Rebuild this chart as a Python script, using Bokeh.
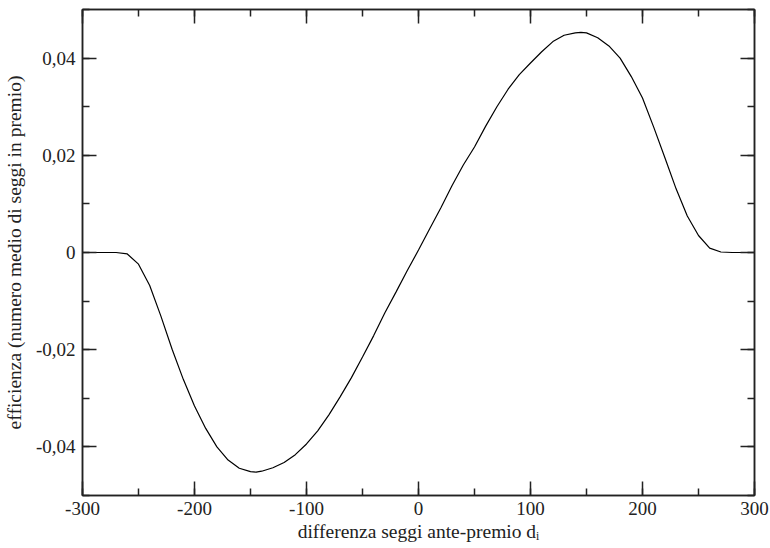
from bokeh.plotting import figure
from bokeh.models import (LinearAxis, FixedTicker, CustomJSTickFormatter, Range1d)
from bokeh.embed import file_html
from bokeh.resources import INLINE

# data
d_values = [-300, -280, -270, -260, -250, -240, -230, -220, -210, -200, -190, -180,
            -170, -160, -150, -145, -140, -130, -120, -110, -100, -90, -80, -70,
            -60, -50, -40, -30, -20, -10, 0, 10, 20, 30, 40, 50, 60, 70, 80, 90,
            100, 110, 120, 130, 140, 145, 150, 160, 170, 180, 190, 200, 210, 220,
            230, 240, 250, 260, 270, 280, 300]
efficienza = [0.0, 0.0, 0.0, -0.0003, -0.0024, -0.0068, -0.0131, -0.0199, -0.0261,
              -0.0316, -0.0362, -0.0400, -0.0427, -0.0444, -0.0451, -0.0452, -0.0450,
              -0.0443, -0.0432, -0.0416, -0.0394, -0.0367, -0.0334, -0.0297, -0.0258,
              -0.0215, -0.0171, -0.0124, -0.0081, -0.0037, 0.0005, 0.0049, 0.0092,
              0.0138, 0.0180, 0.0217, 0.0260, 0.0300, 0.0336, 0.0366, 0.0390, 0.0413,
              0.0434, 0.0447, 0.0452, 0.0453, 0.0452, 0.0442, 0.0425, 0.0400, 0.0362,
              0.0318, 0.0258, 0.0195, 0.0131, 0.0075, 0.0035, 0.0009, 0.0001, 0.0, 0.0]

x_major = [-300, -200, -100, 0, 100, 200, 300]
x_minor = [-300, -250, -200, -150, -100, -50, 0, 50, 100, 150, 200, 250, 300]
y_major = [-0.04, -0.02, 0.0, 0.02, 0.04]
y_minor = [-0.05, -0.04, -0.03, -0.02, -0.01, 0.0, 0.01, 0.02, 0.03, 0.04, 0.05]

FONT = "'Liberation Serif', 'Times New Roman', serif"

p = figure(width=770, height=545, output_backend="svg", toolbar_location=None,
           x_range=Range1d(-300, 300), y_range=Range1d(-0.05, 0.05),
           x_axis_location=None, y_axis_location=None,
           min_border_left=81, min_border_right=16, min_border_top=9,
           min_border_bottom=50)
p.grid.visible = False
p.outline_line_color = "#222222"
p.outline_line_width = 1.5

fmt = CustomJSTickFormatter(code="""
if (Math.abs(tick) < 1e-9) { return "0"; }
var a = Math.abs(tick);
var s = (a >= 1) ? a.toFixed(0) : a.toFixed(2).replace(".", ",");
return (tick < 0 ? "-" : "") + s;
""")

def style(ax, labels=True):
    ax.major_tick_in = 14
    ax.major_tick_out = 0
    ax.minor_tick_in = 7
    ax.minor_tick_out = 0
    ax.axis_line_color = "#222222"
    ax.axis_line_width = 1.5
    ax.major_tick_line_color = "#222222"
    ax.minor_tick_line_color = "#222222"
    ax.major_tick_line_width = 1.5
    ax.minor_tick_line_width = 1.5
    ax.formatter = fmt
    if labels:
        ax.major_label_text_font = FONT
        ax.major_label_text_font_size = "19px"
        ax.major_label_text_color = "#222222"
        ax.axis_label_text_font = FONT
        ax.axis_label_text_font_size = "19.5px"
        ax.axis_label_text_font_style = "normal"
        ax.axis_label_text_color = "#222222"
    else:
        ax.major_label_text_font_size = "1px"
        ax.major_label_text_color = None
        ax.major_label_standoff = 0

xb = LinearAxis(ticker=FixedTicker(ticks=x_major, minor_ticks=x_minor),
                axis_label="differenza seggi ante-premio d\u1d62")
style(xb)
xb.major_label_standoff = 6
xb.axis_label_standoff = 3
p.add_layout(xb, "below")

yl = LinearAxis(ticker=FixedTicker(ticks=y_major, minor_ticks=y_minor),
                axis_label="efficienza (numero medio di seggi in premio)")
style(yl)
yl.major_label_standoff = 7
yl.axis_label_standoff = 8
p.add_layout(yl, "left")

xt = LinearAxis(ticker=FixedTicker(ticks=x_major, minor_ticks=x_minor))
style(xt, labels=False)
p.add_layout(xt, "above")

yr = LinearAxis(ticker=FixedTicker(ticks=y_major, minor_ticks=y_minor))
style(yr, labels=False)
p.add_layout(yr, "right")

p.line(d_values, efficienza, line_color="black", line_width=1.2)

open("out.html", "w").write(file_html(p, INLINE))
